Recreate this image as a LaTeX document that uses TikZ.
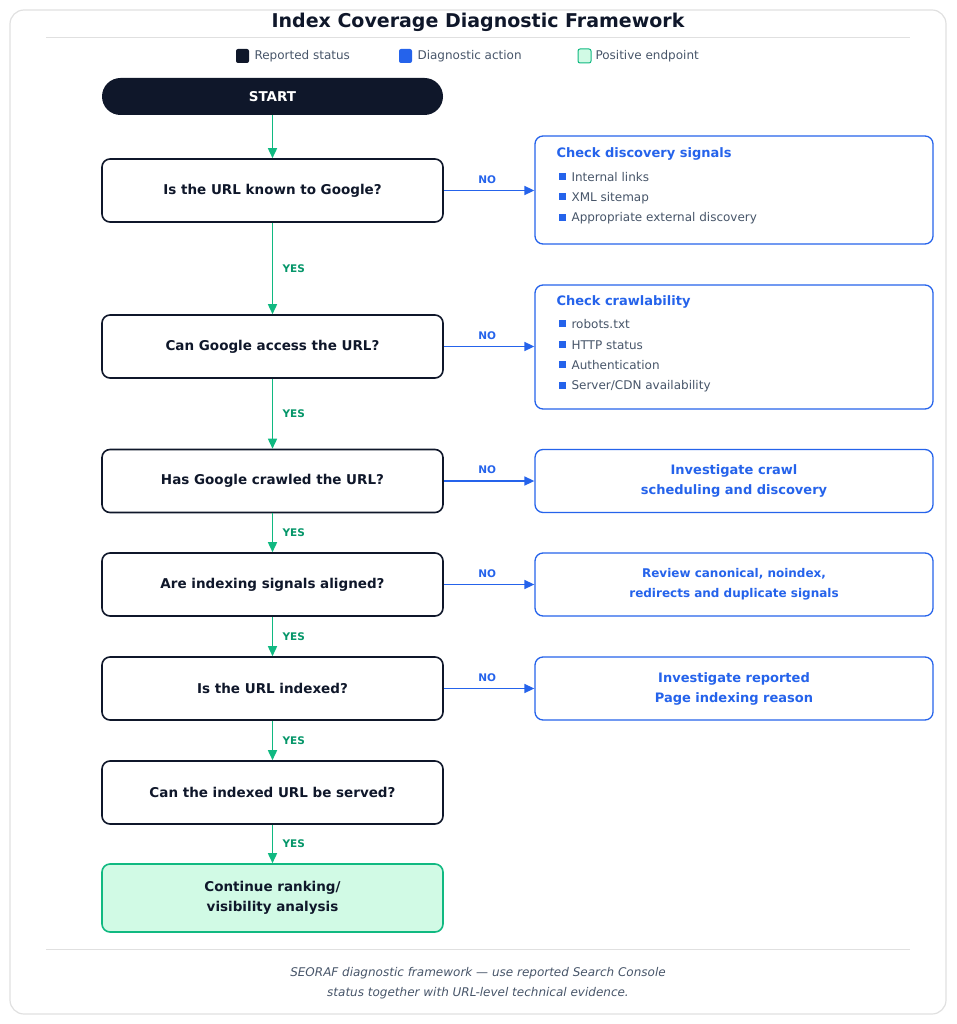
\documentclass[tikz,border=0pt]{standalone}
\usepackage{fontspec}
\setmainfont{DejaVu Sans}
\usetikzlibrary{arrows.meta}
\definecolor{navy}{HTML}{0F172A}
\definecolor{act}{HTML}{2563EB}
\definecolor{okfill}{HTML}{D1FAE5}
\definecolor{okline}{HTML}{10B981}
\definecolor{yesg}{HTML}{059669}
\definecolor{txtg}{HTML}{475569}
\tikzset{
 status/.style={draw=navy, line width=1.6pt, rounded corners=8pt, fill=white, minimum width=341pt, minimum height=63pt, font=\fontsize{13.5}{16}\selectfont\bfseries, text=navy},
 action/.style={draw=act, line width=1.3pt, rounded corners=8pt, fill=white, minimum width=398pt, minimum height=63pt, font=\fontsize{13}{20}\selectfont\bfseries, text=act, align=center},
 yes/.style={okline, line width=1.6pt, -{Triangle[length=10pt,width=9pt]}},
 no/.style={act, line width=1.6pt, -{Triangle[length=10pt,width=9pt]}},
 lab/.style={font=\fontsize{10.5}{12}\selectfont\bfseries},
 item/.style={font=\fontsize{12}{14}\selectfont, text=txtg, anchor=west},
}
\newcommand{\bul}[2]{\fill[act] (#1-3.5,#2-3.5) rectangle ++(7,7);}
\begin{document}
\begin{tikzpicture}[x=1pt, y=-1pt]
\useasboundingbox (0,0) rectangle (956,1024);
\draw[draw=black!12, line width=1.2pt, rounded corners=14pt] (10,10) rectangle (946,1014);
\node (title) at (478,22) {\fontsize{19}{22}\selectfont\bfseries\color{navy}Index Coverage Diagnostic Framework};
\draw[black!12, line width=1pt] (46,38) -- (910,38);
% legend
\fill[navy, rounded corners=2pt] (236,49) rectangle (249,63);
\node[item] (l1) at (251,56) {Reported status};
\fill[act, rounded corners=2pt] (399,49) rectangle (412,63);
\node[item] (l2) at (414,56) {Diagnostic action};
\filldraw[fill=okfill, draw=okline, line width=1pt, rounded corners=2pt] (578,49) rectangle (591,63);
\node[item] (l3) at (592,56) {Positive endpoint};
% left column
\node[fill=navy, rounded corners=18.5pt, minimum width=341pt, minimum height=37pt, text=white, font=\fontsize{13.5}{16}\selectfont\bfseries] (start) at (272.5,96.5) {START};
\node[status] (q1) at (272.5,190.5) {Is the URL known to Google?};
\node[status] (q2) at (272.5,346.5) {Can Google access the URL?};
\node[status] (q3) at (272.5,481) {Has Google crawled the URL?};
\node[status] (q4) at (272.5,584.5) {Are indexing signals aligned?};
\node[status] (q5) at (272.5,688.5) {Is the URL indexed?};
\node[status] (q6) at (272.5,792.5) {Can the indexed URL be served?};
\node[status, draw=okline, fill=okfill, minimum height=68pt, align=center, font=\fontsize{13.5}{20}\selectfont\bfseries] (done) at (272.5,898) {Continue ranking/\\visibility analysis};
% right column
\node[action, minimum height=108pt] (r1) at (734,190) {};
\node[action, minimum height=124pt] (r2) at (734,347) {};
\node[action] (r3) at (734,481) {Investigate crawl\\scheduling and discovery};
\node[action, font=\fontsize{12}{20}\selectfont\bfseries] (r4) at (734,584.5) {Review canonical, noindex,\\redirects and duplicate signals};
\node[action] (r5) at (734,688.5) {Investigate reported\\Page indexing reason};
\node[anchor=west, text=act, font=\fontsize{13}{16}\selectfont\bfseries] (r1h) at (553,154) {Check discovery signals};
\foreach \t [count=\i] in {Internal links, XML sitemap, Appropriate external discovery}{
  \bul{562}{156+20.5*\i}
  \node[item] (r1i\i) at (568,157+20.5*\i) {\t};}
\node[anchor=west, text=act, font=\fontsize{13}{16}\selectfont\bfseries] (r2h) at (553,302) {Check crawlability};
\foreach \t [count=\i] in {robots.txt, HTTP status, Authentication, Server/CDN availability}{
  \bul{562}{303+20.5*\i}
  \node[item] (r2i\i) at (568,304+20.5*\i) {\t};}
% connectors
\draw[yes] (start) -- (q1);
\draw[yes] (q1) -- node[lab, text=yesg, right=6pt] {YES} (q2);
\draw[yes] (q2) -- node[lab, text=yesg, right=6pt] {YES} (q3);
\draw[yes] (q3) -- node[lab, text=yesg, right=6pt] {YES} (q4);
\draw[yes] (q4) -- node[lab, text=yesg, right=6pt] {YES} (q5);
\draw[yes] (q5) -- node[lab, text=yesg, right=6pt] {YES} (q6);
\draw[yes] (q6) -- node[lab, text=yesg, right=6pt] {YES} (done);
\foreach \a/\b in {q1/r1, q2/r2, q3/r3, q4/r4, q5/r5}
  \draw[no] (\a.east) -- node[lab, text=act, above=3pt, pos=.48] {NO} (\a.east -| \b.west);
% footer
\draw[black!12, line width=1pt] (46,949) -- (910,949);
\node[align=center, text=txtg, font=\fontsize{12}{20}\selectfont\itshape] (foot) at (478,983) {SEORAF diagnostic framework — use reported Search Console\\status together with URL-level technical evidence.};
\end{tikzpicture}
\end{document}
